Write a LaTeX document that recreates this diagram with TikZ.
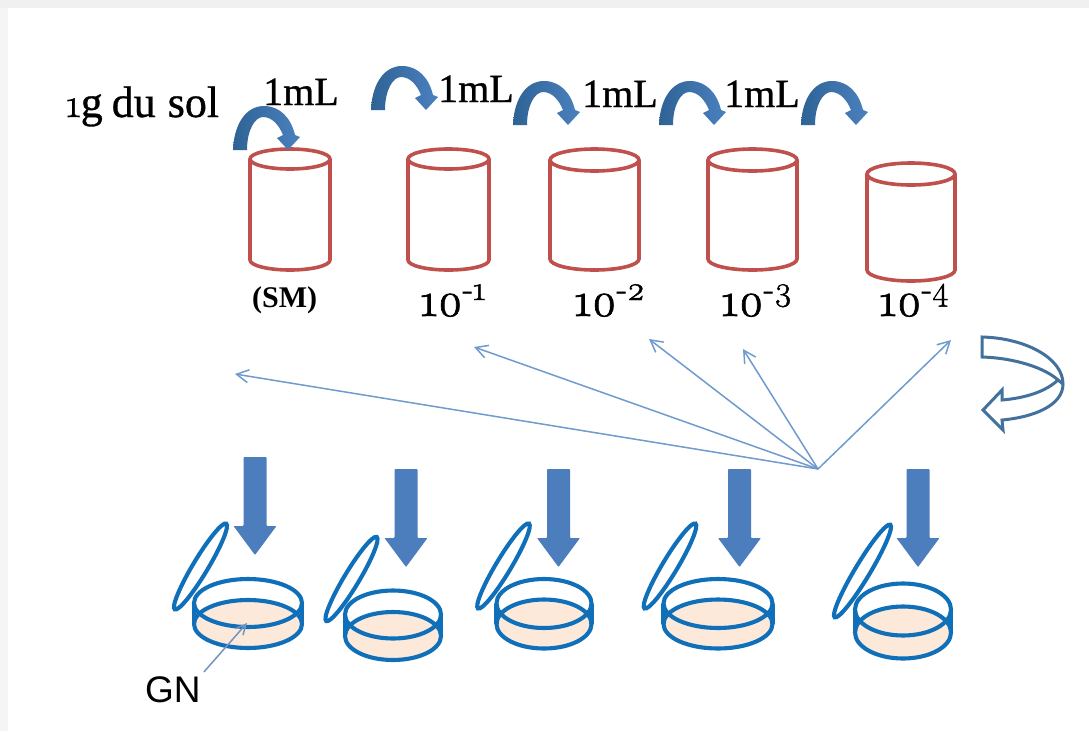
\documentclass[tikz,border=0pt]{standalone}
\usepackage{fontspec}
\setmainfont{Liberation Serif}
\setsansfont{Liberation Sans}
\newfontfamily\heavy[FakeBold=0.8]{Liberation Serif}
\newfontfamily\oldnum[Numbers=OldStyle,FakeBold=1.4]{Latin Modern Roman}
\usetikzlibrary{arrows.meta}
\definecolor{jarred}{HTML}{C0504D}
\definecolor{dishblue}{HTML}{0F6FB8}
\definecolor{agar}{HTML}{FCE9DA}
\definecolor{dropblue}{HTML}{4C7EBD}
\definecolor{curvedark}{HTML}{2F6395}
\definecolor{curvelight}{HTML}{4A80BF}
\definecolor{thinblue}{HTML}{6F9BCF}
\definecolor{turnblue}{HTML}{41719C}
\tikzset{
  jarline/.style={draw=jarred,line width=3.6pt},
  dishline/.style={draw=dishblue,line width=4.1pt},
  dropshape/.style={fill=dropblue,draw=none,rounded corners=0.8pt},
  curveshape/.style={left color=curvedark,right color=curvelight,draw=none},
  feedarrow/.style={draw=thinblue,line width=1.5pt,-{Straight Barb[length=12pt,width=13pt,line width=1.5pt]}},
  textlabel/.style={inner sep=0pt,anchor=base west,font=\heavy\fontsize{40}{42}\selectfont},
}
% dilution factor printed with old-style figures and a raised exponent
\newcommand{\dilu}[1]{{\oldnum\fontsize{48}{50}\selectfont 10}\raisebox{16pt}{\oldnum\fontsize{34}{36}\selectfont -#1}}
% jar: left x, right x, lid centre y, bottom y of the wall, lid radius
\newcommand{\jar}[5]{%
  \pgfmathsetmacro{\jcx}{(#1+#2)/2}\pgfmathsetmacro{\jrx}{(#2-#1)/2}%
  \draw[jarline,fill=white] (#1,#3) -- (#1,#4) arc[start angle=180,end angle=360,x radius=\jrx,y radius=-#5] -- (#2,#3);
  \draw[jarline,fill=white] (\jcx,#3) ellipse[x radius=\jrx,y radius=#5];
}
% curved transfer arrow, placed by the left corner of its foot
\newcommand{\transfer}[2]{%
  \shade[curveshape,shift={(#1,#2)}] (0,0) .. controls (1,-26) and (13,-44) .. (31,-44)
    .. controls (47,-44) and (58,-32) .. (62,-15) -- (67,-13) -- (55,0) -- (44,-12) -- (50,-15)
    .. controls (46,-25) and (39,-33) .. (30,-33) .. controls (22,-33) and (14,-20) .. (14,0) -- cycle;
}
% vertical block arrow: centre x, top y
\newcommand{\drop}[2]{%
  \fill[dropshape,shift={(#1,#2)}] (-11.5,0) -- (11.5,0) -- (11.5,69) -- (21.5,69) -- (0,98) -- (-21.5,69) -- (-11.5,69) -- cycle;
}
% open dish: centre x, upper rim y, lower rim y, radius x, radius y, lid centre x, lid centre y, lid half length
\newcommand{\dish}[8]{%
  \draw[dishline] (#6,#7) ellipse[x radius=#8,y radius=7.5,rotate=59];
  \fill[agar] (#1,#3) ellipse[x radius=#4,y radius=#5];
  \draw[dishline] (#1-#4,#2) -- (#1-#4,#3);
  \draw[dishline] (#1+#4,#2) -- (#1+#4,#3);
  \draw[dishline] (#1,#3) ellipse[x radius=#4,y radius=#5];
  \draw[dishline] (#1,#2) ellipse[x radius=#4,y radius=#5];
}
\begin{document}
\begin{tikzpicture}[x=1pt,y=-1pt]
\useasboundingbox (0,0) rectangle (1089,731);
\fill[white] (0,0) rectangle (1089,731);
\fill[black!6] (0,0) rectangle (1089,8);
\fill[black!4] (0,8) rectangle (8,731);

% dilution series
\jar{250}{330}{159}{260}{10}
\jar{408}{489}{159}{260}{10}
\jar{550}{639}{160}{259}{11}
\jar{708}{797}{160}{259}{11}
\jar{867}{955}{174}{270}{11}

% transfers between the tubes
\transfer{233}{150}
\transfer{371}{110}
\transfer{513}{125}
\transfer{659}{125}
\transfer{801}{125}

\node[textlabel,font=\heavy\fontsize{44}{46}\selectfont] (soil) at (66,117) {{\oldnum\fontsize{40}{42}\selectfont 1}g\hspace{9pt}du\hspace{12pt}sol};
\node[textlabel] (ml a) at (263,105) {1mL};
\node[textlabel] (ml b) at (438,102) {1mL};
\node[textlabel] (ml c) at (582,107) {1mL};
\node[textlabel] (ml d) at (724,107) {1mL};

\node[inner sep=0pt,anchor=base west,font=\fontsize{30}{32}\selectfont\bfseries] (sm) at (252,307) {(SM)};
\node[textlabel] (d one) at (420,316) {\dilu{1}};
\node[textlabel] (d two) at (574,316) {\dilu{2}};
\node[textlabel] (d three) at (721,316) {\dilu{3}};
\node[textlabel] (d four) at (879,316) {\dilu{4}};

% plating lines
\coordinate (hub) at (818,469);
\coordinate (t sm) at (235,374);
\coordinate (t one) at (474,347);
\coordinate (t two) at (649,339);
\coordinate (t three) at (743,349);
\coordinate (t four) at (951,340);
\foreach \tgt in {t sm,t one,t two,t three,t four}
  \draw[feedarrow] (hub) -- (\tgt);

% repeat arrow
\draw[draw=turnblue,line width=3pt,line join=miter,fill=white]
  (982,337) -- (982,357) .. controls (1015,358) and (1045,368) .. (1058,380)
  .. controls (1045,392) and (1025,398) .. (1002,400) -- (1002,390) -- (983,410) -- (1003,430) -- (1002,420)
  .. controls (1035,417) and (1063,405) .. (1063,384) .. controls (1063,358) and (1025,338) .. (982,337) -- cycle;
\draw[draw=turnblue,line width=3pt] (1058,380) -- (1063,384);

% plates
\dish{248}{603}{624}{54}{24}{200.5}{566.5}{50}
\dish{393}{614.5}{636}{48}{24}{351.5}{579}{49}
\dish{544}{603.5}{624}{47.5}{24.5}{503.5}{566}{49.5}
\dish{718}{603.5}{624}{54.5}{24.5}{670}{566}{49.5}
\dish{903}{609.5}{632.5}{48}{26}{862.5}{571}{54}

\drop{255}{457}
\drop{406}{469}
\drop{558.5}{469}
\drop{739.5}{469}
\drop{918}{469}

\node[inner sep=0pt,anchor=base west,font=\sffamily\fontsize{37}{39}\selectfont] (gn) at (145,702) {GN};
\coordinate (agar point) at (247,623);
\draw[draw=thinblue!80!gray,line width=1.5pt,-{Straight Barb[length=10pt,width=10pt,line width=1.5pt]}] (gn.north east) ++(3,-4) -- (agar point);
\end{tikzpicture}
\end{document}
